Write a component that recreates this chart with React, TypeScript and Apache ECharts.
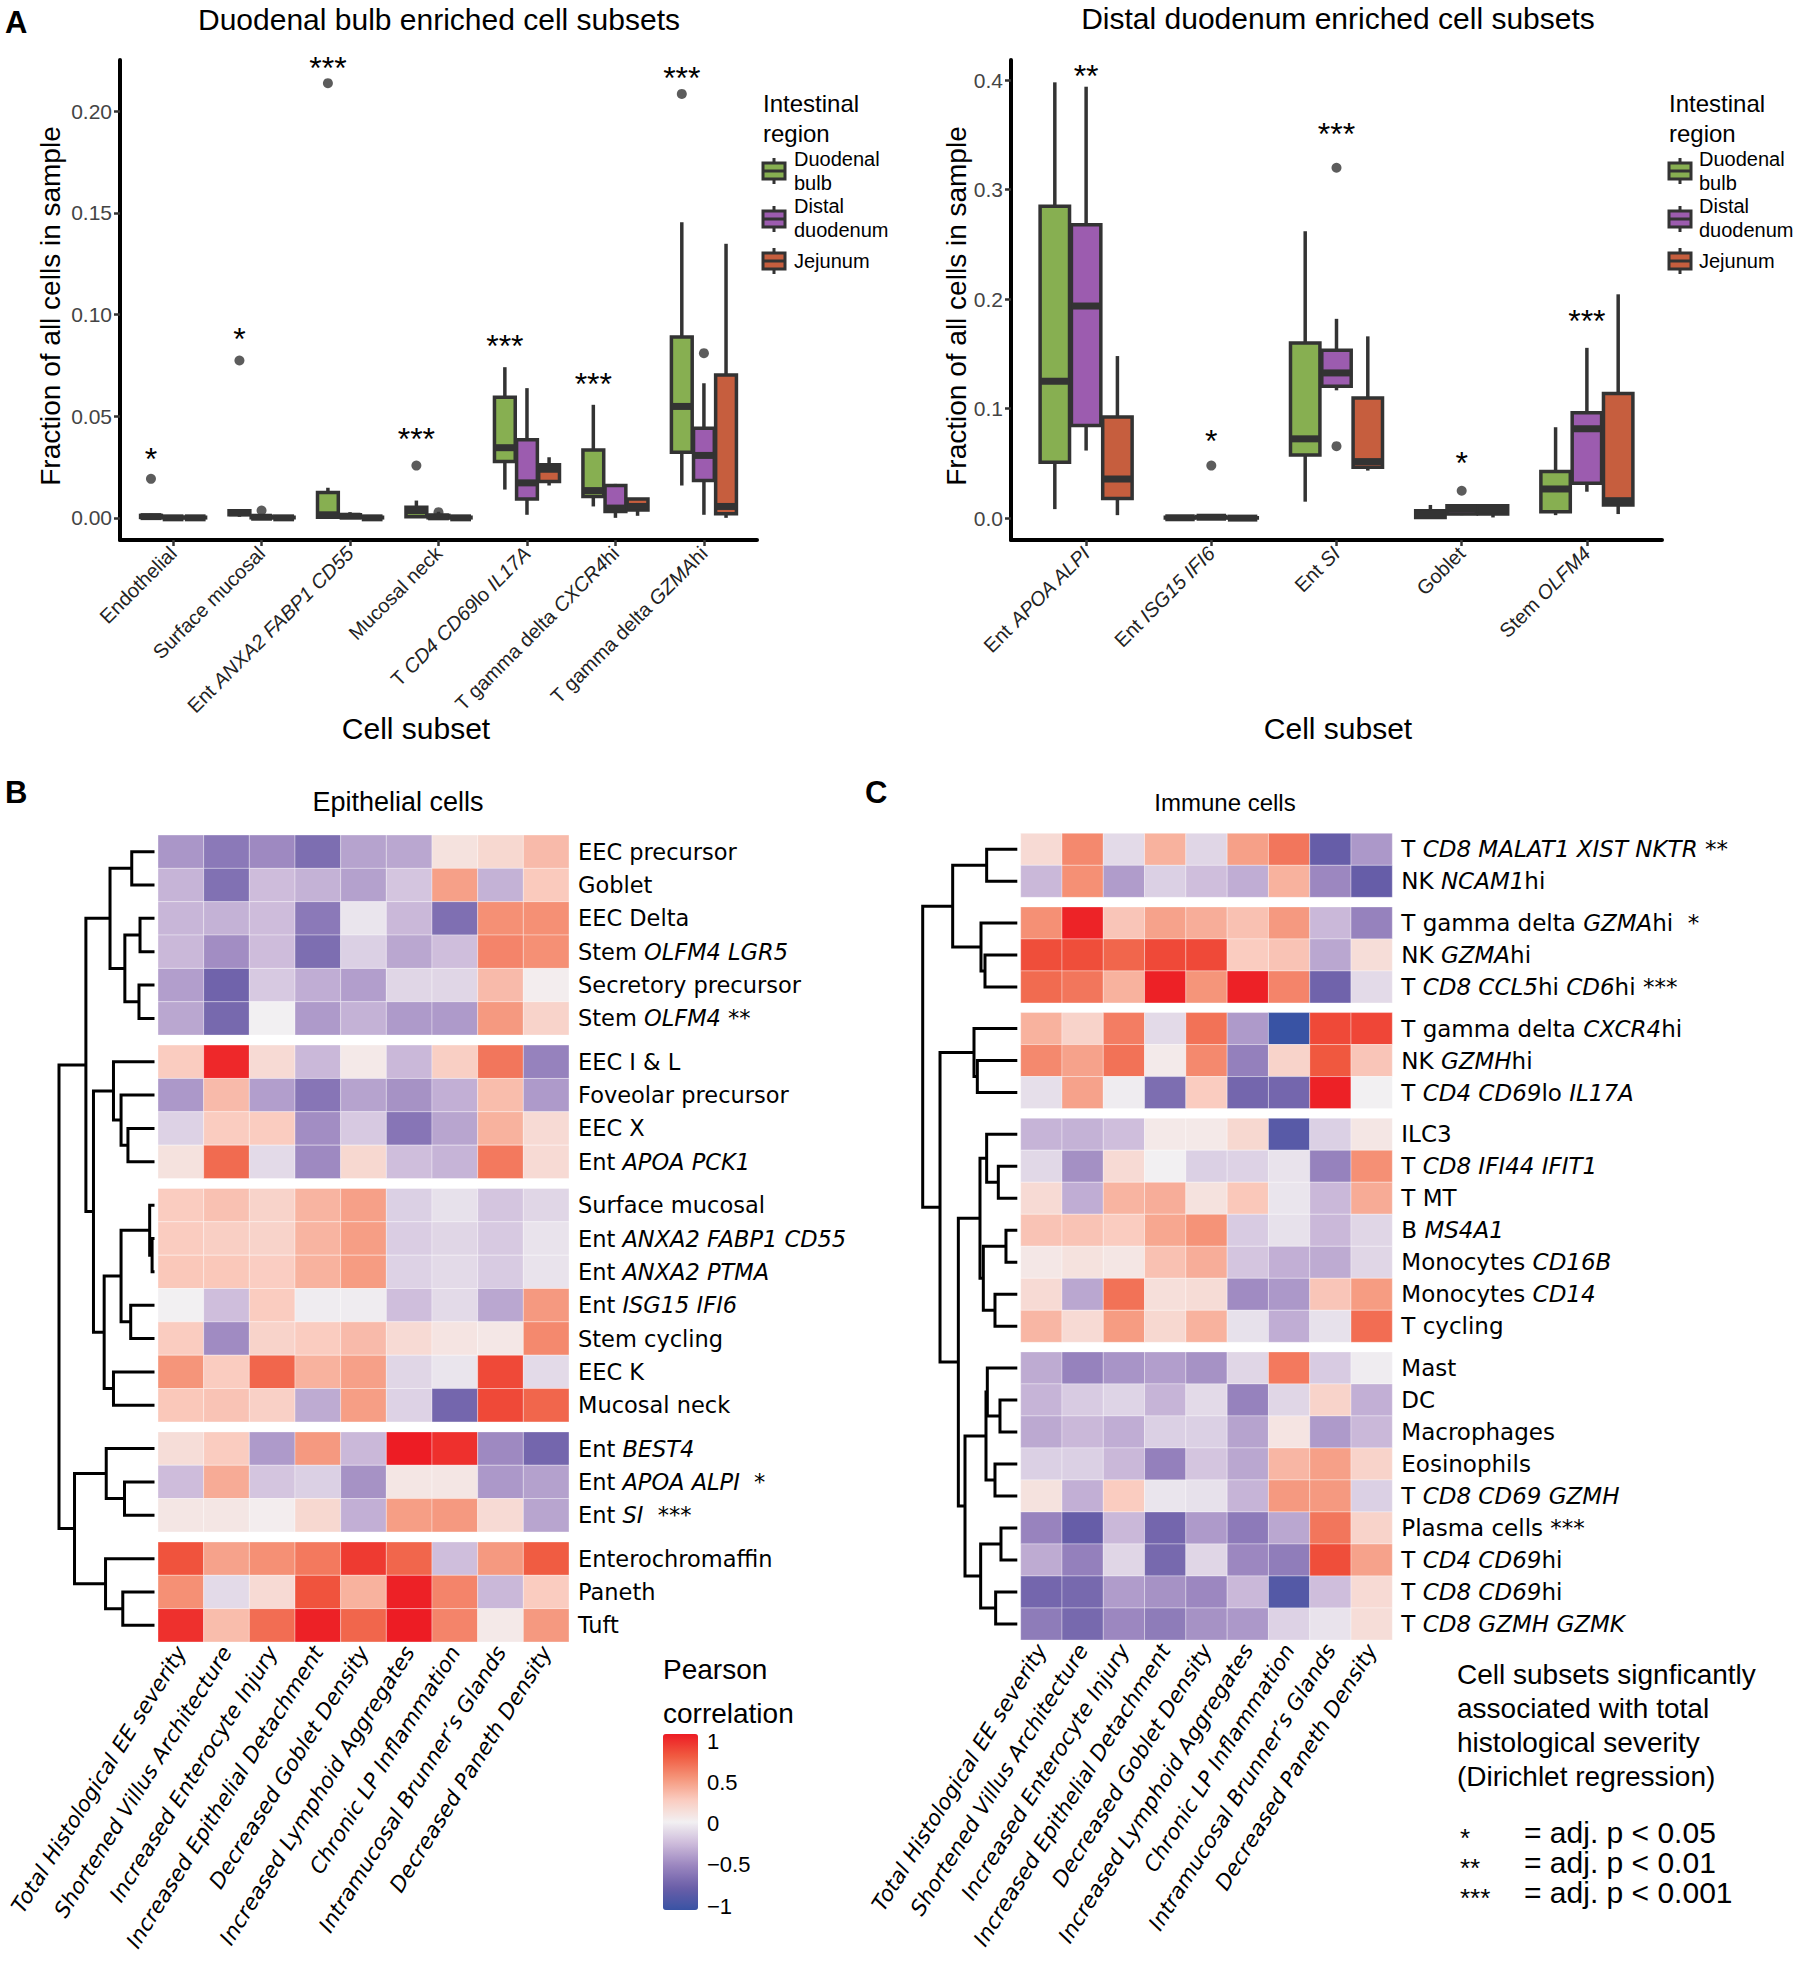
import React, { useEffect, useRef } from 'react';
import * as echarts from 'echarts';

// ---------------- DATA ----------------
const REGIONS = ['Duodenal bulb', 'Distal duodenum', 'Jejunum'];
const REGION_COLORS = ['#87AF51', '#9C5CAF', '#C65E3E'];

// Panel A left: duodenal-bulb enriched subsets; stats = [lowWhisker, Q1, median, Q3, highWhisker]
const bulbCats = ['Endothelial', 'Surface mucosal', 'Ent |ANXA2 FABP1 CD55|', 'Mucosal neck', 'T |CD4 CD69|lo |IL17A|', 'T gamma delta |CXCR4|hi', 'T gamma delta |GZMA|hi'];
const bulbStatsBulb = [
  [0, 0.0002, 0.0006, 0.0012, 0.002],
  [0.0005, 0.0015, 0.0025, 0.0035, 0.004],
  [0, 0.0003, 0.0015, 0.0125, 0.0148],
  [0, 0.0005, 0.0035, 0.0052, 0.0085],
  [0.0139, 0.0277, 0.0345, 0.0593, 0.0741],
  [0.0056, 0.0105, 0.0134, 0.0334, 0.0556],
  [0.0159, 0.0323, 0.0548, 0.0889, 0.1454],
];
const bulbStatsDistal = [
  [0, 0, 0, 0.0003, 0.0005],
  [0, 0, 0.0003, 0.0008, 0.0015],
  [0, 0.0003, 0.0008, 0.0015, 0.0028],
  [0, 0, 0.0005, 0.0012, 0.003],
  [0.0015, 0.0093, 0.0172, 0.0384, 0.0638],
  [0, 0.0031, 0.0048, 0.0159, 0.0167],
  [0.0015, 0.0184, 0.0307, 0.0441, 0.0662],
];
const bulbStatsJejunum = [
  [0, 0, 0, 0.0003, 0.0005],
  [0, 0, 0, 0.0003, 0.0005],
  [0, 0, 0, 0.0003, 0.0005],
  [0, 0, 0, 0.0003, 0.0005],
  [0.0159, 0.0179, 0.0239, 0.0261, 0.0298],
  [0.001, 0.0039, 0.0056, 0.0093, 0.0095],
  [0, 0.002, 0.0056, 0.0703, 0.1348],
];
// [category (1-based), region index, value]
const bulbOutliers = [[1, 0, 0.0192], [2, 0, 0.0774], [2, 1, 0.0036], [3, 0, 0.2138], [4, 0, 0.0257], [4, 1, 0.0028], [7, 0, 0.2085], [7, 1, 0.081]];
const bulbSig = ['*', '*', '***', '***', '***', '***', '***'];
const bulbSigY = [0.0323, 0.0913, 0.2249, 0.0421, 0.088, 0.0692, 0.22];
const bulbTicks = [0, 0.05, 0.1, 0.15, 0.2];

// Panel A right: distal-duodenum enriched subsets
const distalCats = ['Ent |APOA ALPI|', 'Ent |ISG15 IFI6|', 'Ent |SI|', 'Goblet', 'Stem |OLFM4|'];
const distalStatsBulb = [
  [0.0082, 0.051, 0.125, 0.2848, 0.398],
  [0, 0, 0.0003, 0.0008, 0.0015],
  [0.015, 0.0577, 0.0724, 0.16, 0.262],
  [0, 0.0006, 0.0037, 0.0067, 0.012],
  [0.0027, 0.0058, 0.0266, 0.0425, 0.083],
];
const distalStatsDistal = [
  [0.0617, 0.0846, 0.1937, 0.268, 0.394],
  [0, 0.0003, 0.0008, 0.0015, 0.0025],
  [0.1167, 0.1204, 0.1326, 0.1534, 0.182],
  [0.0027, 0.0037, 0.0082, 0.0113, 0.012],
  [0.0241, 0.0318, 0.0816, 0.0962, 0.1555],
];
const distalStatsJejunum = [
  [0.0027, 0.018, 0.0357, 0.0923, 0.148],
  [0, 0, 0, 0.0003, 0.0005],
  [0.0434, 0.0464, 0.0516, 0.1097, 0.166],
  [0.0006, 0.0037, 0.0076, 0.0113, 0.012],
  [0.0037, 0.0119, 0.0159, 0.1137, 0.2044],
];
const distalOutliers = [[2, 1, 0.048], [3, 1, 0.32], [3, 1, 0.0657], [4, 1, 0.025]];
const distalSig = ['**', '*', '***', '*', '***'];
const distalSigY = [0.41, 0.077, 0.357, 0.057, 0.186];
const distalTicks = [0, 0.1, 0.2, 0.3, 0.4];

// Heatmaps
const features = ['Total Histological EE severity', 'Shortened Villus Architecture', 'Increased Enterocyte Injury', 'Increased Epithelial Detachment', 'Decreased Goblet Density', 'Increased Lymphoid Aggregates', 'Chronic LP Inflammation', 'Intramucosal Brunner\u2019s Glands', 'Decreased Paneth Density'];

const epiRows = ['EEC precursor', 'Goblet', 'EEC Delta', 'Stem |OLFM4 LGR5|', 'Secretory precursor', 'Stem |OLFM4| **', 'EEC I & L', 'Foveolar precursor', 'EEC X', 'Ent |APOA PCK1|', 'Surface mucosal', 'Ent |ANXA2 FABP1 CD55|', 'Ent |ANXA2 PTMA|', 'Ent |ISG15 IFI6|', 'Stem cycling', 'EEC K', 'Mucosal neck', 'Ent |BEST4|', 'Ent |APOA ALPI|  *', 'Ent |SI|  ***', 'Enterochromaffin', 'Paneth', 'Tuft'];
const epiGroupSizes = [6, 4, 7, 3, 3];
const epiValues = [
  [-0.42, -0.58, -0.48, -0.65, -0.36, -0.34, 0.10, 0.17, 0.33],
  [-0.28, -0.63, -0.24, -0.29, -0.37, -0.20, 0.45, -0.29, 0.26],
  [-0.27, -0.29, -0.24, -0.58, -0.05, -0.26, -0.64, 0.52, 0.52],
  [-0.26, -0.46, -0.24, -0.65, -0.15, -0.34, -0.23, 0.57, 0.52],
  [-0.38, -0.72, -0.18, -0.31, -0.38, -0.12, -0.12, 0.33, 0.02],
  [-0.34, -0.68, 0.00, -0.40, -0.29, -0.40, -0.40, 0.48, 0.20],
  [0.25, 0.95, 0.15, -0.26, 0.05, -0.26, 0.23, 0.63, -0.52],
  [-0.41, 0.33, -0.38, -0.60, -0.36, -0.44, -0.30, 0.32, -0.40],
  [-0.14, 0.25, 0.25, -0.46, -0.18, -0.60, -0.35, 0.37, 0.15],
  [0.10, 0.68, -0.10, -0.48, 0.17, -0.23, -0.28, 0.62, 0.15],
  [0.25, 0.30, 0.20, 0.36, 0.45, -0.15, -0.07, -0.20, -0.12],
  [0.25, 0.23, 0.20, 0.36, 0.46, -0.16, -0.12, -0.18, -0.06],
  [0.27, 0.27, 0.24, 0.37, 0.47, -0.14, -0.10, -0.17, -0.06],
  [0.00, -0.23, 0.25, -0.02, -0.02, -0.23, -0.10, -0.34, 0.48],
  [0.25, -0.47, 0.20, 0.25, 0.33, 0.15, 0.08, 0.06, 0.55],
  [0.50, 0.25, 0.70, 0.37, 0.45, -0.12, -0.05, 0.82, -0.10],
  [0.27, 0.29, 0.22, -0.32, 0.46, -0.14, -0.70, 0.82, 0.70],
  [0.13, 0.25, -0.40, 0.48, -0.26, 1.00, 0.92, -0.48, -0.70],
  [-0.24, 0.40, -0.20, -0.15, -0.44, 0.07, 0.07, -0.41, -0.37],
  [0.07, 0.07, 0.02, 0.17, -0.30, 0.46, 0.48, 0.15, -0.35],
  [0.78, 0.44, 0.52, 0.62, 0.88, 0.70, -0.23, 0.48, 0.74],
  [0.52, -0.10, 0.15, 0.78, 0.37, 0.98, 0.57, -0.26, 0.25],
  [0.92, 0.32, 0.67, 0.98, 0.70, 1.00, 0.57, 0.05, 0.48],
];
// merges: [childA, childB, height]; child >= 0 is a row, child < 0 is merge -(k+1)
const epiMerges = [
  [0, 1, 66], [2, 3, 42], [4, 5, 45], [-2, -3, 86], [-1, -4, 129],
  [8, 9, 77], [7, -6, 97], [6, -7, 119],
  [11, 12, 7], [10, -9, 14], [13, 14, 69], [-10, -11, 97], [15, 16, 119], [-12, -13, 146],
  [-8, -14, 177], [-5, -15, 199],
  [18, 19, 87], [17, -17, 140], [21, 22, 92], [20, -19, 142], [-18, -20, 232],
  [-16, -21, 277],
];

const immRows = ['T |CD8 MALAT1 XIST NKTR| **', 'NK |NCAM1|hi', 'T gamma delta |GZMA|hi  *', 'NK |GZMA|hi', 'T |CD8 CCL5|hi |CD6|hi ***', 'T gamma delta |CXCR4|hi', 'NK |GZMH|hi', 'T |CD4 CD69|lo |IL17A|', 'ILC3', 'T |CD8 IFI44 IFIT1|', 'T MT', 'B |MS4A1|', 'Monocytes |CD16B|', 'Monocytes |CD14|', 'T cycling', 'Mast', 'DC', 'Macrophages', 'Eosinophils', 'T |CD8 CD69 GZMH|', 'Plasma cells ***', 'T |CD4 CD69|hi', 'T |CD8 CD69|hi', 'T |CD8 GZMH GZMK|'];
const immGroupSizes = [2, 3, 3, 7, 9];
const immValues = [
  [0.15, 0.55, -0.10, 0.37, -0.12, 0.45, 0.63, -0.77, -0.41],
  [-0.26, 0.52, -0.39, -0.15, -0.23, -0.31, 0.37, -0.49, -0.77],
  [0.52, 0.97, 0.28, 0.44, 0.39, 0.30, 0.48, -0.26, -0.52],
  [0.80, 0.80, 0.70, 0.82, 0.82, 0.25, 0.29, -0.34, 0.13],
  [0.68, 0.63, 0.37, 0.98, 0.50, 0.98, 0.57, -0.72, -0.10],
  [0.37, 0.20, 0.60, -0.10, 0.65, -0.40, -1.00, 0.82, 0.83],
  [0.55, 0.44, 0.65, 0.04, 0.55, -0.53, 0.20, 0.76, 0.28],
  [-0.08, 0.44, -0.02, -0.65, 0.25, -0.70, -0.70, 0.98, 0.00],
  [-0.28, -0.29, -0.23, 0.05, 0.05, 0.17, -0.84, -0.15, 0.07],
  [-0.11, -0.45, 0.15, 0.00, -0.15, -0.14, -0.06, -0.52, 0.52],
  [0.15, -0.31, 0.36, 0.39, 0.10, 0.27, -0.05, -0.26, 0.40],
  [0.29, 0.29, 0.25, 0.42, 0.51, -0.17, -0.07, -0.26, -0.12],
  [0.06, 0.10, 0.07, 0.30, 0.39, -0.20, -0.30, -0.32, -0.12],
  [0.15, -0.34, 0.65, 0.12, 0.14, -0.47, -0.41, 0.28, 0.47],
  [0.35, 0.15, 0.47, 0.17, 0.37, -0.07, -0.31, -0.07, 0.67],
  [-0.32, -0.52, -0.43, -0.38, -0.44, -0.12, 0.62, -0.17, -0.02],
  [-0.28, -0.17, -0.13, -0.28, -0.10, -0.52, -0.12, 0.20, -0.30],
  [-0.33, -0.26, -0.31, -0.15, -0.15, -0.36, 0.08, -0.40, -0.26],
  [-0.15, -0.15, -0.26, -0.53, -0.20, -0.34, 0.35, 0.45, 0.20],
  [0.10, -0.30, 0.25, -0.05, -0.07, -0.28, 0.48, 0.48, -0.15],
  [-0.51, -0.77, -0.26, -0.70, -0.40, -0.57, -0.34, 0.63, 0.20],
  [-0.32, -0.53, -0.12, -0.68, -0.12, -0.49, -0.55, 0.80, 0.44],
  [-0.70, -0.68, -0.39, -0.44, -0.49, -0.26, -0.86, -0.23, 0.15],
  [-0.56, -0.68, -0.49, -0.56, -0.44, -0.41, -0.14, -0.06, 0.13],
];
const immMerges = [
  [0, 1, 92], [3, 4, 97], [2, -2, 109], [-1, -3, 194],
  [6, 7, 120], [5, -5, 130],
  [9, 10, 57], [8, -7, 92], [11, 12, 34], [13, 14, 67], [-9, -10, 102], [-8, -11, 112],
  [16, 17, 52], [15, -13, 90], [18, 19, 67], [-14, -15, 94], [20, 21, 49], [22, 23, 65], [-17, -18, 110], [-16, -19, 157],
  [-12, -20, 177], [-6, -21, 232], [-4, -22, 284],
];

const colorTicks = [1, 0.5, 0, -0.5, -1];
const colorStops = ['#3953A4', '#6A5EA8', '#9A85BF', '#CCBADA', '#F2F0F2', '#FACCC0', '#F5957A', '#F05A40', '#ED1C24'];

const sigNoteLines = ['Cell subsets signficantly', 'associated with total', 'histological severity', '(Dirichlet regression)'];
const sigKeyStars = ['*', '**', '***'];
const sigKeyText = ['= adj. p < 0.05', '= adj. p < 0.01', '= adj. p < 0.001'];

// ---------------- HELPERS ----------------
const FS = "'Liberation Sans', Arial, Helvetica, sans-serif";
const FD = "'DejaVu Sans', sans-serif";
const DARK = '#333333';
const DODGE = 0.25;
const BOXW = 0.235;
const GAP = 0.3;

function richLabel(s: string): string {
  return s.split('|').map((p, i) => (p === '' ? '' : `{${i % 2 ? 'i' : 'n'}|${p}}`)).join('');
}
function richStyles(size: number, family: string, color: string) {
  return {
    n: { fontSize: size, fontFamily: family, color, fontStyle: 'normal' },
    i: { fontSize: size, fontFamily: family, color, fontStyle: 'italic' },
  };
}
function rowLayout(sizes: number[]) {
  const tops: number[] = [];
  let t = 0;
  sizes.forEach((n) => {
    for (let k = 0; k < n; k++) { tops.push(t); t += 1; }
    t += GAP;
  });
  return { tops, total: t - GAP };
}
function dendroItems(merges: number[][], tops: number[]) {
  const nodeY: number[] = [];
  const nodeH: number[] = [];
  const ref = (c: number) => (c >= 0 ? [tops[c] + 0.5, 0] : [nodeY[-c - 1], nodeH[-c - 1]]);
  return merges.map(([a, b, h], k) => {
    const [ya, ha] = ref(a);
    const [yb, hb] = ref(b);
    nodeY[k] = (ya + yb) / 2;
    nodeH[k] = h;
    return [ha, ya, h, yb, hb];
  });
}
function boxItems(statsByRegion: number[][][]) {
  const out: number[][] = [];
  statsByRegion.forEach((list, g) => list.forEach((s, c) => out.push([c + 1, g, ...s])));
  return out;
}
function boxRender(params: any, api: any) {
  const cat = api.value(0), g = api.value(1);
  const lo = api.value(2), q1 = api.value(3), med = api.value(4), q3 = api.value(5), hi = api.value(6);
  const xc = cat + (g - 1) * DODGE;
  const a = api.coord([xc - BOXW / 2, q3]);
  const b = api.coord([xc + BOXW / 2, q1]);
  const pLo = api.coord([xc, lo]);
  const pHi = api.coord([xc, hi]);
  const pMed = api.coord([xc, med]);
  const ls = { stroke: DARK, lineWidth: 3.5 };
  return {
    type: 'group',
    children: [
      { type: 'line', shape: { x1: pHi[0], y1: pHi[1], x2: pHi[0], y2: a[1] }, style: ls },
      { type: 'line', shape: { x1: pLo[0], y1: b[1], x2: pLo[0], y2: pLo[1] }, style: ls },
      { type: 'rect', shape: { x: a[0], y: a[1], width: b[0] - a[0], height: b[1] - a[1] }, style: { fill: REGION_COLORS[g], stroke: DARK, lineWidth: 3.5 } },
      { type: 'line', shape: { x1: a[0], y1: pMed[1], x2: b[0], y2: pMed[1] }, style: { stroke: DARK, lineWidth: 7 } },
    ],
  };
}
function sigRender(texts: string[]) {
  return (params: any, api: any) => {
    const p = api.coord([api.value(0), api.value(1)]);
    return {
      type: 'text', x: p[0], y: p[1] + 7,
      style: { text: texts[params.dataIndex], fontSize: 32, fontFamily: FS, fill: '#000', align: 'center', verticalAlign: 'middle', textAlign: 'center', textVerticalAlign: 'middle' },
    };
  };
}
function cellRender(tops: number[]) {
  return (params: any, api: any) => {
    const c = api.value(0), r = api.value(1);
    const p1 = api.coord([c, tops[r]]);
    const p2 = api.coord([c + 1, tops[r] + 1]);
    return {
      type: 'rect',
      shape: { x: Math.min(p1[0], p2[0]), y: Math.min(p1[1], p2[1]), width: Math.abs(p2[0] - p1[0]), height: Math.abs(p2[1] - p1[1]) },
      style: { fill: api.visual('color'), stroke: 'rgba(255,255,255,0.35)', lineWidth: 1 },
    };
  };
}
function dendroRender(params: any, api: any) {
  const pts = [
    api.coord([api.value(0), api.value(1)]),
    api.coord([api.value(2), api.value(1)]),
    api.coord([api.value(2), api.value(3)]),
    api.coord([api.value(4), api.value(3)]),
  ];
  return { type: 'polyline', shape: { points: pts }, style: { stroke: '#000', lineWidth: 3, fill: null } };
}
function txt(text: string, x: number, y: number, size: number, align = 'left', extra: any = {}) {
  const style: any = {
    text, fontSize: size, fontFamily: extra.family || FS, fontWeight: extra.weight || 'normal', fontStyle: extra.style || 'normal',
    fill: extra.color || '#000', align, verticalAlign: 'middle', textAlign: align, textVerticalAlign: 'middle',
  };
  if (extra.lineHeight) style.lineHeight = extra.lineHeight;
  return { type: 'text', x, y, rotation: extra.rotation || 0, style };
}
function legendKey(x: number, yc: number, color: string) {
  return {
    type: 'group', x, y: yc,
    children: [
      { type: 'line', shape: { x1: 11, y1: -13, x2: 11, y2: 13 }, style: { stroke: DARK, lineWidth: 3 } },
      { type: 'rect', shape: { x: 0, y: -8, width: 22, height: 16 }, style: { fill: color, stroke: DARK, lineWidth: 3 } },
      { type: 'line', shape: { x1: 0, y1: 0, x2: 22, y2: 0 }, style: { stroke: DARK, lineWidth: 3 } },
    ],
  };
}
function legendBlock(x0: number, labelX: number) {
  const els: any[] = [txt('Intestinal\nregion', x0, 118, 24, 'left', { lineHeight: 30 })];
  const keyY = [171, 219, 261];
  const lines = [['Duodenal', 'bulb'], ['Distal', 'duodenum'], ['Jejunum']];
  const blockY = [171, 218, 261];
  REGIONS.forEach((_, i) => {
    els.push(legendKey(x0, keyY[i], REGION_COLORS[i]));
    els.push(txt(lines[i].join('\n'), labelX, blockY[i], 20, 'left', { lineHeight: 24 }));
  });
  return els;
}

function boxXAxis(gridIndex: number, cats: string[]) {
  const vals = cats.map((_, i) => i + 1);
  return {
    type: 'value', gridIndex, min: 0.4, max: cats.length + 0.6,
    axisLine: { show: true, onZero: false, lineStyle: { color: '#000', width: 4 } },
    axisTick: { show: true, customValues: vals, length: 6, lineStyle: { color: DARK, width: 2.5 } },
    axisLabel: { customValues: vals, rotate: 45, margin: 10, formatter: (v: number) => richLabel(cats[Math.round(v) - 1] || ''), rich: richStyles(20, FS, '#222'), fontSize: 20, fontFamily: FS, color: '#222' },
    splitLine: { show: false },
  };
}
function boxYAxis(gridIndex: number, min: number, max: number, ticks: number[], dec: number) {
  return {
    type: 'value', gridIndex, min, max,
    axisLine: { show: true, onZero: false, lineStyle: { color: '#000', width: 4 } },
    axisTick: { show: true, customValues: ticks, length: 6, lineStyle: { color: DARK, width: 2.5 } },
    axisLabel: { customValues: ticks, formatter: (v: number) => v.toFixed(dec), fontSize: 21, fontFamily: FS, color: '#444', margin: 8 },
    splitLine: { show: false },
  };
}
function heatAxes(gridIndex: number, total: number, rows: string[], tops: number[], rowFont: number) {
  const centers = tops.map((t) => t + 0.5);
  const colCenters = features.map((_, i) => i + 0.5);
  return {
    x: {
      type: 'value', gridIndex, min: 0, max: features.length, position: 'bottom',
      axisLine: { show: false, onZero: false }, axisTick: { show: false }, splitLine: { show: false },
      axisLabel: { customValues: colCenters, rotate: 58, margin: 6, formatter: (v: number) => features[Math.floor(v)] || '', fontFamily: FD, fontStyle: 'italic', fontSize: 21.5, color: '#000' },
    },
    y: {
      type: 'value', gridIndex, min: 0, max: total, inverse: true, position: 'right',
      axisLine: { show: false, onZero: false }, axisTick: { show: false }, splitLine: { show: false },
      axisLabel: {
        customValues: centers, margin: 9, rich: richStyles(rowFont, FD, '#000'), fontSize: rowFont, fontFamily: FD, color: '#000',
        formatter: (v: number) => {
          let best = 0;
          centers.forEach((c, i) => { if (Math.abs(c - v) < Math.abs(centers[best] - v)) best = i; });
          return richLabel(rows[best]);
        },
      },
    },
  };
}

function buildOption() {
  const epi = rowLayout(epiGroupSizes);
  const imm = rowLayout(immGroupSizes);
  const epiCells: number[][] = [];
  epiValues.forEach((row, r) => row.forEach((v, c) => epiCells.push([c, r, v])));
  const immCells: number[][] = [];
  immValues.forEach((row, r) => row.forEach((v, c) => immCells.push([c, r, v])));
  const hb = heatAxes(3, epi.total, epiRows, epi.tops, 22.5);
  const hc = heatAxes(5, imm.total, immRows, imm.tops, 23);
  const epiRoot = epiMerges[epiMerges.length - 1][2];
  const immRoot = immMerges[immMerges.length - 1][2];

  const graphic: any[] = [
    txt('A', 5, 22, 31, 'left', { weight: 'bold' }),
    txt('B', 5, 792, 31, 'left', { weight: 'bold' }),
    txt('C', 865, 792, 31, 'left', { weight: 'bold' }),
    txt('Duodenal bulb enriched cell subsets', 439, 19, 30, 'center'),
    txt('Distal duodenum enriched cell subsets', 1338, 18, 30, 'center'),
    txt('Fraction of all cells in sample', 50, 306, 28, 'center', { rotation: Math.PI / 2 }),
    txt('Fraction of all cells in sample', 956, 306, 28, 'center', { rotation: Math.PI / 2 }),
    txt('Cell subset', 416, 728, 30, 'center'),
    txt('Cell subset', 1338, 728, 30, 'center'),
    ...legendBlock(763, 794),
    ...legendBlock(1669, 1699),
    txt('Epithelial cells', 398, 802, 27, 'center'),
    txt('Immune cells', 1225, 802, 24, 'center'),
    txt('Pearson\ncorrelation', 663, 1691, 28, 'left', { lineHeight: 44 }),
    ...colorTicks.map((t, i) => txt(String(t).replace('-', '\u2212'), 707, 1741 + i * 41.25, 22)),
    txt(sigNoteLines.join('\n'), 1457, 1725.5, 28, 'left', { lineHeight: 33.7 }),
    txt(sigKeyStars.join('\n'), 1460, 1867.5, 26, 'left', { lineHeight: 30 }),
    txt(sigKeyText.join('\n'), 1524, 1862.5, 30, 'left', { lineHeight: 30 }),
  ];

  return {
    animation: false,
    backgroundColor: '#ffffff',
    grid: [
      { left: 120, top: 60, width: 637, height: 480 },
      { left: 1011, top: 60, width: 651, height: 480 },
      { left: 59, top: 835, width: 95.5, height: 807 },
      { left: 158, top: 835, width: 411, height: 807 },
      { left: 922.7, top: 833.3, width: 94.6, height: 806.7 },
      { left: 1020.7, top: 833.3, width: 371.6, height: 806.7 },
    ],
    xAxis: [
      boxXAxis(0, bulbCats),
      boxXAxis(1, distalCats),
      { type: 'value', gridIndex: 2, min: 0, max: epiRoot, inverse: true, show: false },
      hb.x,
      { type: 'value', gridIndex: 4, min: 0, max: immRoot, inverse: true, show: false },
      hc.x,
    ],
    yAxis: [
      boxYAxis(0, -0.0109, 0.2252, bulbTicks, 2),
      boxYAxis(1, -0.02, 0.4184, distalTicks, 1),
      { type: 'value', gridIndex: 2, min: 0, max: epi.total, inverse: true, show: false },
      hb.y,
      { type: 'value', gridIndex: 4, min: 0, max: imm.total, inverse: true, show: false },
      hc.y,
    ],
    visualMap: {
      type: 'continuous', min: -1, max: 1, dimension: 2, seriesIndex: [7, 9], calculable: false,
      orient: 'vertical', left: 663, top: 1734, itemWidth: 35, itemHeight: 176, padding: 0,
      inRange: { color: colorStops },
    },
    graphic: { elements: graphic },
    series: [
      { type: 'custom', xAxisIndex: 0, yAxisIndex: 0, data: boxItems([bulbStatsBulb, bulbStatsDistal, bulbStatsJejunum]), renderItem: boxRender, encode: { x: 0, y: [2, 3, 4, 5, 6] }, clip: false, silent: true },
      { type: 'scatter', xAxisIndex: 0, yAxisIndex: 0, data: bulbOutliers.map(([c, g, v]) => [c + (g - 1) * DODGE, v]), symbolSize: 10, itemStyle: { color: DARK }, silent: true, z: 3 },
      { type: 'custom', xAxisIndex: 0, yAxisIndex: 0, data: bulbSigY.map((v, i) => [i + 1 - DODGE, v]), renderItem: sigRender(bulbSig), clip: false, silent: true },
      { type: 'custom', xAxisIndex: 1, yAxisIndex: 1, data: boxItems([distalStatsBulb, distalStatsDistal, distalStatsJejunum]), renderItem: boxRender, encode: { x: 0, y: [2, 3, 4, 5, 6] }, clip: false, silent: true },
      { type: 'scatter', xAxisIndex: 1, yAxisIndex: 1, data: distalOutliers.map(([c, g, v]) => [c + (g - 1) * DODGE, v]), symbolSize: 10, itemStyle: { color: DARK }, silent: true, z: 3 },
      { type: 'custom', xAxisIndex: 1, yAxisIndex: 1, data: distalSigY.map((v, i) => [i + 1, v]), renderItem: sigRender(distalSig), clip: false, silent: true },
      { type: 'custom', xAxisIndex: 2, yAxisIndex: 2, data: dendroItems(epiMerges, epi.tops), renderItem: dendroRender, clip: false, silent: true },
      { type: 'custom', xAxisIndex: 3, yAxisIndex: 3, data: epiCells, renderItem: cellRender(epi.tops), encode: { x: 0, y: 1 }, clip: false, silent: true },
      { type: 'custom', xAxisIndex: 4, yAxisIndex: 4, data: dendroItems(immMerges, imm.tops), renderItem: dendroRender, clip: false, silent: true },
      { type: 'custom', xAxisIndex: 5, yAxisIndex: 5, data: immCells, renderItem: cellRender(imm.tops), encode: { x: 0, y: 1 }, clip: false, silent: true },
    ],
  };
}

export default function App() {
  const ref = useRef<HTMLDivElement>(null);
  useEffect(() => {
    if (!ref.current) return;
    const chart = echarts.init(ref.current, null, { renderer: 'svg' });
    chart.setOption(buildOption() as any);
    return () => chart.dispose();
  }, []);
  return <div ref={ref} style={{ position: 'absolute', left: 0, top: 0, width: 1800, height: 1961, background: '#fff' }} />;
}
